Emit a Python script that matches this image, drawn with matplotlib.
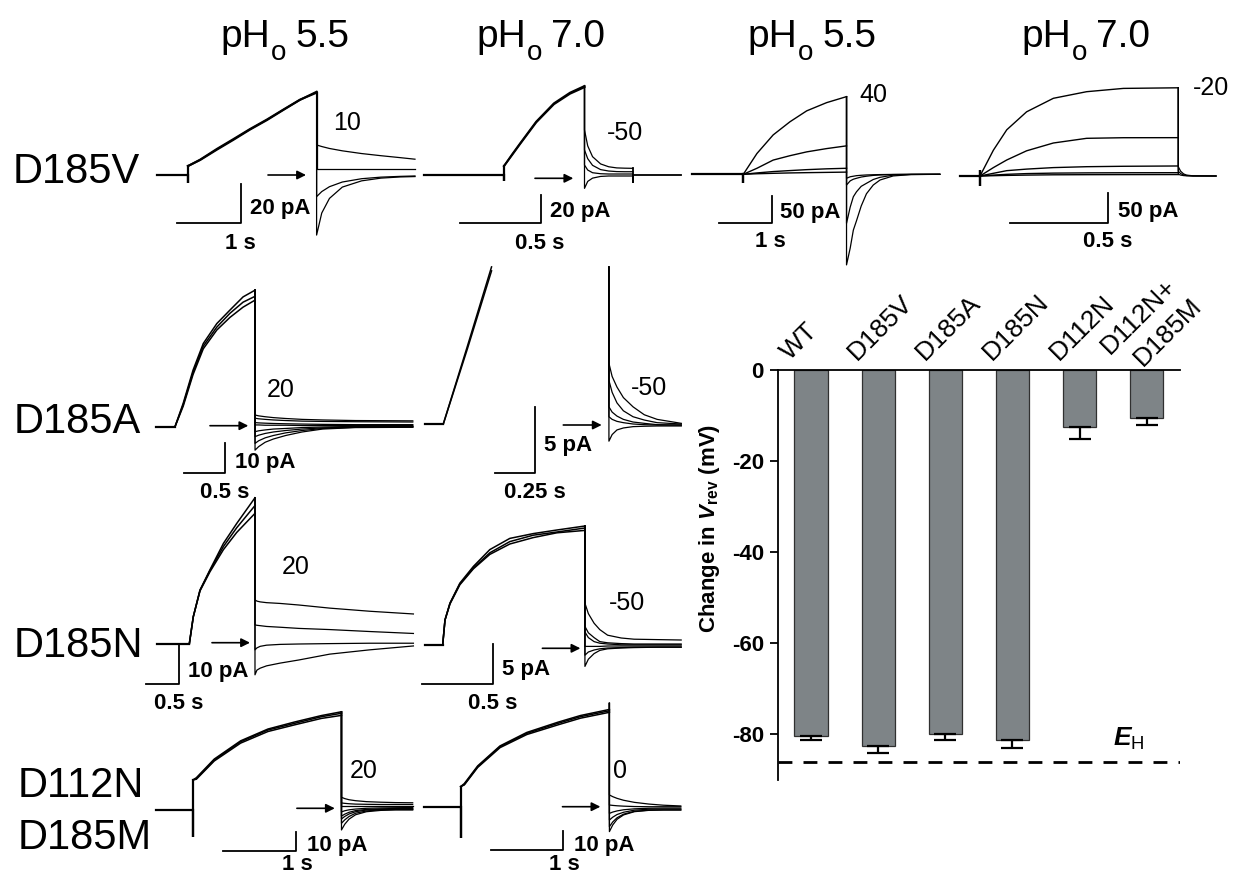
import matplotlib
matplotlib.use("Agg")
import matplotlib.pyplot as plt

plt.rcParams['font.family'] = ['Liberation Sans', 'DejaVu Sans']
plt.rcParams['mathtext.fontset'] = 'custom'
plt.rcParams['mathtext.rm'] = 'Liberation Sans'
plt.rcParams['mathtext.it'] = 'Liberation Sans:italic'
plt.rcParams['mathtext.bf'] = 'Liberation Sans:bold'
plt.rcParams['mathtext.bfit'] = 'Liberation Sans:italic:bold'

# ---------------- bar chart data ----------------
bar_labels = ['WT', 'D185V', 'D185A', 'D185N', 'D112N']
bar_last_label = ['D112N+', 'D185M']
bar_values = [-80.5, -82.6, -80.0, -81.3, -12.5, -10.4]
bar_errors = [0.8, 1.6, 1.3, 1.7, 2.7, 1.7]
e_h_value = -86.2
y_ticks = [0, -20, -40, -60, -80]

# ---------------- header / row text ----------------
col_headers = ['5.5', '7.0', '5.5', '7.0']
row_labels = ['D185V', 'D185A', 'D185N', 'D112N', 'D185M']
tail_voltages = ['10', '-50', '40', '-20', '20', '-50', '20', '-50', '20', '0']
scale_pa = [20, 20, 50, 50, 10, 5, 10, 5, 10, 10]
scale_s = [1, 0.5, 1, 0.5, 0.5, 0.25, 0.5, 0.5, 1, 1]

# ---------------- traces (time s, current pA) ----------------
# D185V, pHo 5.5
v55_pre_t = [-0.48, 0, 0, 0]
v55_pre_i = [0, 0, -3.9, 4.6]
v55_act_t = [0, 0.19, 0.45, 0.70, 0.96, 1.23, 1.49, 1.74, 2.0]
v55_act = [[4.6, 7.7, 13.0, 17.9, 23.2, 28.2, 33.5, 38.5, 42.7],
           [4.6, 7.9, 13.4, 18.3, 23.5, 28.5, 33.7, 38.6, 42.2]]
v55_tail_t = [2.0, 2.08, 2.2, 2.4, 2.7, 3.0, 3.3, 3.53]
v55_tails = [[15.4, 14.6, 13.6, 12.4, 11.0, 9.9, 8.9, 8.1],
             [2.9, 2.9, 2.9, 2.9, 2.9, 2.9, 2.9, 2.9],
             [-11.1, -8.5, -6.0, -3.6, -1.9, -1.1, -0.7, -0.5],
             [-30.8, -19.5, -12.0, -6.2, -3.0, -1.6, -1.0, -0.8]]

# D185V, pHo 7.0
v70_pre_t = [-0.50, 0, 0, 0]
v70_pre_i = [0, 0, -4.0, 6.3]
v70_act_t = [0, 0.05, 0.1, 0.2, 0.31, 0.41, 0.5]
v70_act = [[6.3, 14.5, 22.3, 37.6, 50.5, 58.0, 62.7],
           [6.3, 14.0, 21.8, 37.0, 49.8, 57.2, 61.8]]
v70_tail_t = [0.5, 0.52, 0.55, 0.6, 0.65, 0.7, 0.75, 0.8]
v70_tails = [[31.7, 20.5, 12.9, 7.8, 5.8, 5.0, 4.8, 4.7],
             [17.6, 11.5, 6.8, 3.8, 2.8, 2.4, 2.3, 2.3],
             [7.0, 3.5, 1.6, 0.9, 0.7, 0.7, 0.7, 0.7],
             [-9.4, -4.5, -2.2, -1.0, -0.7, -0.7, -0.7, -0.7]]
v70_post_t = [0.8, 0.8, 0.8, 1.10]
v70_post_i = [4.7, -4.7, 0, 0]

# D185V, pHo 5.5 (longer family)
v55b_pre_t = [-0.985, 0, 0, 0]
v55b_pre_i = [0, 0, -15.4, 0]
v55b_act_t = [0, 0.26, 0.57, 0.89, 1.21, 1.59, 1.97]
v55b_act = [[0, 38, 72, 96, 116, 131, 142],
            [0, 11, 26, 34, 41, 47, 52],
            [0, 2.5, 5, 6.8, 8.5, 10, 11],
            [0, 1, 1.8, 2.5, 3, 3.5, 4]]
v55b_tail_t = [1.97, 2.04, 2.10, 2.16, 2.25, 2.35, 2.48, 2.61, 2.86, 3.2, 3.75]
v55b_tails = [[-165.6, -135, -102, -85, -58, -35.6, -19.6, -10.4, -3, -0.5, 0],
              [-89.6, -60, -41, -32, -22, -16.5, -9.5, -5.5, -1.5, -0.3, 0],
              [-19.6, -12, -9, -7.3, -5, -3.5, -2, -1.2, -0.5, -0.1, 0],
              [-7.3, -4.5, -3.5, -2.5, -1.8, -1.2, -0.8, -0.5, -0.2, 0, 0]]

# D185V, pHo 7.0 (longer family)
v70b_pre_t = [-0.10, 0, 0, 0, 0]
v70b_pre_i = [0, 0, 10, -16.7, 0]
v70b_act_t = [0, 0.068, 0.136, 0.237, 0.373, 0.542, 0.729, 1.008]
v70b_act = [[0, 43, 77, 107, 129.5, 140.5, 146, 147],
            [0, 14, 26.7, 42, 55, 62.8, 63.8, 63.9],
            [0, 4.5, 8.9, 11.5, 14.0, 15.5, 16.2, 16.7],
            [0, 1.5, 2.8, 4, 4.8, 5.2, 5.4, 5.5],
            [0, 0.5, 1, 1.5, 2, 2.2, 2.3, 2.4]]
v70b_tail_t = [1.008, 1.02, 1.035, 1.05, 1.083, 1.2]
v70b_tails = [[15.5, 8, 3.5, 1.5, 0.3, 0],
              [8, 4, 1.8, 0.8, 0.2, 0],
              [3, 1.5, 0.7, 0.3, 0, 0]]

# D185A, pHo 5.5
a55_pre_t = [-0.23, 0]
a55_pre_i = [0, 0]
a55_act_t = [0, 0.10, 0.22, 0.345, 0.51, 0.67, 0.83, 0.976]
a55_act = [[0, 8.0, 19.3, 28.4, 35.2, 39.8, 44.3, 46.6],
           [0, 7.5, 18.5, 27.5, 34.0, 38.7, 42.5, 44.5],
           [0, 7.0, 17.8, 26.6, 33.0, 37.3, 40.8, 43.2]]
a55_tail_t = [0.976, 1.02, 1.1, 1.2, 1.35, 1.55, 1.8, 2.2, 2.9]
a55_tails = [[4.0, 3.7, 3.4, 3.1, 2.8, 2.5, 2.3, 2.1, 2.0],
             [2.9, 2.7, 2.5, 2.3, 2.1, 1.9, 1.8, 1.7, 1.6],
             [1.4, 1.3, 1.2, 1.1, 1.0, 0.9, 0.8, 0.7, 0.7],
             [0.6, 0.6, 0.5, 0.5, 0.5, 0.4, 0.4, 0.4, 0.4],
             [-1.7, -1.4, -1.1, -0.8, -0.6, -0.3, -0.1, 0.1, 0.1],
             [-3.4, -2.9, -2.3, -1.8, -1.3, -0.8, -0.4, -0.1, 0],
             [-5.7, -4.8, -3.8, -3.0, -2.1, -1.3, -0.6, -0.2, -0.1],
             [-8.0, -6.8, -5.3, -4.2, -3.0, -1.8, -0.8, -0.3, -0.2]]

# D185A, pHo 7.0
a70_pre_t = [-0.114, 0]
a70_pre_i = [0, 0]
a70_act_t = [0, 0.15, 0.30]
a70_act = [[0, 5.9, 11.9], [0, 5.7, 11.6]]
a70_top = 11.9
a70_tail_t = [1.03, 1.05, 1.08, 1.12, 1.18, 1.25, 1.33, 1.48]
a70_tails = [[4.6, 3.6, 2.8, 2.0, 1.3, 0.7, 0.35, 0.05],
             [3.3, 2.4, 1.6, 1.0, 0.55, 0.3, 0.1, 0],
             [1.3, 0.9, 0.6, 0.35, 0.15, 0.05, -0.05, -0.08],
             [0.55, 0.35, 0.2, 0.1, 0, -0.05, -0.08, -0.08],
             [-1.3, -0.8, -0.45, -0.3, -0.2, -0.17, -0.15, -0.15]]

# D185N, pHo 5.5
n55_pre_t = [-0.506, 0]
n55_pre_i = [0, 0]
n55_act_t = [0, 0.062, 0.166, 0.32, 0.53, 0.736, 1.02]
n55_act = [[0, 7.0, 13.8, 19.0, 25.8, 30.9, 37.5],
           [0, 7.0, 13.8, 18.8, 25.0, 29.8, 35.5],
           [0, 7.0, 13.6, 18.5, 24.2, 28.6, 33.5]]
n55_tail_t = [1.02, 1.05, 1.1, 1.2, 1.41, 1.7, 2.18, 2.8, 3.48]
n55_tails = [[11.3, 11.0, 10.8, 10.6, 10.4, 10.0, 9.2, 8.4, 7.7],
             [4.9, 4.8, 4.7, 4.5, 4.3, 4.0, 3.7, 3.2, 2.7],
             [-1.5, -1.0, -0.6, -0.3, -0.1, 0.0, 0.1, 0.2, 0.2],
             [-7.9, -6.7, -6.2, -5.6, -4.9, -4.1, -2.6, -1.5, -0.5]]

# D185N, pHo 7.0
n70_pre_t = [-0.124, 0]
n70_pre_i = [-0.1, -0.1]
n70_act_t = [0, 0.016, 0.051, 0.12, 0.215, 0.33, 0.47, 0.634, 0.8, 0.996]
n70_act = [[-0.1, 3.0, 5.1, 7.6, 9.7, 11.8, 13.2, 13.8, 14.25, 14.75],
           [-0.1, 3.0, 5.1, 7.5, 9.5, 11.4, 12.8, 13.6, 14.0, 14.5],
           [-0.1, 3.0, 5.0, 7.4, 9.4, 11.2, 12.5, 13.3, 13.9, 14.2]]
n70_tail_t = [0.996, 1.02, 1.06, 1.1, 1.155, 1.25, 1.34, 1.5, 1.67]
n70_tails = [[5.1, 3.8, 2.6, 1.8, 1.1, 0.75, 0.6, 0.55, 0.5],
             [2.2, 1.4, 0.8, 0.3, 0.15, 0.05, 0, 0, 0],
             [1.5, 0.8, 0.3, 0.1, 0, -0.1, -0.1, -0.1, -0.1],
             [-0.3, -0.3, -0.3, -0.3, -0.25, -0.25, -0.25, -0.25, -0.25],
             [-1.4, -1.0, -0.75, -0.6, -0.5, -0.45, -0.4, -0.4, -0.4],
             [-2.8, -1.9, -1.2, -0.8, -0.6, -0.5, -0.45, -0.4, -0.4]]

# D112N/D185M, pHo 5.5
m55_pre_t = [-0.51, 0, 0, 0]
m55_pre_i = [0, 0, -14, 15.8]
m55_act_t = [0, 0.048, 0.295, 0.66, 1.037, 1.405, 1.777, 2.055]
m55_act = [[15.8, 17.0, 26.8, 36.4, 42.6, 46.3, 49.7, 51.7],
           [15.8, 16.5, 26.3, 35.9, 42.1, 45.6, 49.1, 50.9],
           [15.8, 16.2, 25.8, 35.2, 41.3, 44.8, 48.2, 49.8]]
m55_tail_t = [2.055, 2.1, 2.16, 2.25, 2.4, 2.6, 2.8, 3.04]
m55_tails = [[6.7, 6.0, 5.4, 4.9, 4.4, 4.1, 3.9, 3.8],
             [3.7, 3.5, 3.3, 3.1, 3.0, 2.9, 2.9, 2.9],
             [2.1, 2.1, 2.1, 2.1, 2.1, 2.1, 2.1, 2.1],
             [-1.0, -0.4, 0.1, 0.5, 0.9, 1.1, 1.2, 1.3],
             [-3.2, -2.2, -1.2, -0.3, 0.3, 0.6, 0.8, 0.8],
             [-4.7, -3.4, -2.1, -0.9, 0, 0.3, 0.5, 0.5],
             [-7.0, -5.2, -3.4, -1.7, -0.5, 0.1, 0.3, 0.3],
             [-10.5, -7.5, -4.8, -2.5, -0.9, -0.2, 0.0, 0.0]]

# D112N/D185M, pHo 7.0
m70_pre_t = [-0.506, 0, 0, 0]
m70_pre_i = [0, 0, -16.3, 10.9]
m70_act_t = [0, 0.05, 0.235, 0.543, 0.913, 1.344, 1.654, 2.054]
m70_act = [[10.9, 12.5, 21.8, 32.3, 39.4, 44.8, 48.3, 51.5],
           [10.9, 12.0, 21.4, 31.9, 38.9, 44.2, 47.7, 50.8],
           [10.9, 11.8, 21.0, 31.4, 38.3, 43.4, 46.9, 50.0]]
m70_top = 54.7
m70_tail_t = [2.054, 2.1, 2.16, 2.25, 2.4, 2.6, 2.8, 3.04]
m70_tails = [[6.5, 5.6, 4.7, 3.7, 2.6, 1.7, 1.1, 0.7],
             [1.2, 1.0, 0.8, 0.6, 0.4, 0.3, 0.3, 0.3],
             [-3.2, -2.5, -1.9, -1.3, -0.8, -0.5, -0.4, -0.4],
             [-6.7, -5.2, -3.8, -2.6, -1.5, -1.0, -0.9, -0.9],
             [-10.2, -7.7, -5.5, -3.6, -2.1, -1.5, -1.4, -1.4],
             [-12.8, -9.3, -6.3, -4.0, -2.3, -1.6, -1.4, -1.4]]

# ---------------- figure ----------------
W, H = 1234, 876
fig = plt.figure(figsize=(W / 100, H / 100), dpi=100)
fig.patch.set_facecolor('white')

# pixel overlay for text and arrows
ax_px = fig.add_axes([0, 0, 1, 1])
ax_px.set_xlim(0, W)
ax_px.set_ylim(H, 0)
ax_px.set_axis_off()


def trace_axes(ox, oy, px_s, px_pa):
    ax = fig.add_axes([0, 0, 1, 1])
    ax.set_xlim(-ox / px_s, (W - ox) / px_s)
    ax.set_ylim(-(H - oy) / px_pa, oy / px_pa)
    ax.set_axis_off()
    ax.patch.set_alpha(0)
    return ax


def draw_panel(layout, pre_t, pre_i, act_t, acts, tail_t, tails,
               corner, sb_pa, sb_s, top=None, post=None, lw_act=1.1):
    ox, oy, px_s, px_pa = layout
    ax = trace_axes(ox, oy, px_s, px_pa)
    ax.plot(pre_t, pre_i, color='black', lw=1.6, solid_joinstyle='miter')
    for a in acts:
        ax.plot(act_t, a, color='black', lw=lw_act)
    peak = top if top is not None else max(a[-1] for a in acts)
    for tl in tails:
        ax.plot([tail_t[0]] + list(tail_t), [peak] + list(tl), color='black', lw=0.9)
    if post is not None:
        ax.plot(post[0], post[1], color='black', lw=1.3)
    # scale bar
    tc = (corner[0] - ox) / px_s
    ic = (oy - corner[1]) / px_pa
    ax.plot([tc - sb_s, tc, tc], [ic, ic, ic + sb_pa], color='black', lw=1.3)
    return ax


layouts = [(188, 175, 64.3, 1.95), (504, 175, 161, 1.42),
           (743.3, 174.3, 52.4, 0.547), (980, 176, 196.7, 0.6),
           (175, 426.7, 82, 2.93), (443.3, 424, 160.8, 13.2),
           (189.3, 644, 64.4, 3.9), (442.7, 644, 142.8, 8.0),
           (192.9, 810, 72.3, 1.9), (460.7, 807.3, 72.4, 1.9)]
corners = [(241, 223.3), (540.7, 223.3), (771.7, 223.3), (1108.3, 222.7),
           (225.4, 472.7), (534.8, 472.7), (178.6, 684), (493.3, 684),
           (295.5, 850.7), (563.4, 850)]

draw_panel(layouts[0], v55_pre_t, v55_pre_i, v55_act_t, v55_act, v55_tail_t, v55_tails,
           corners[0], scale_pa[0], scale_s[0], lw_act=1.5)
draw_panel(layouts[1], v70_pre_t, v70_pre_i, v70_act_t, v70_act, v70_tail_t, v70_tails,
           corners[1], scale_pa[1], scale_s[1], post=(v70_post_t, v70_post_i), lw_act=1.4)
draw_panel(layouts[2], v55b_pre_t, v55b_pre_i, v55b_act_t, v55b_act, v55b_tail_t, v55b_tails,
           corners[2], scale_pa[2], scale_s[2], lw_act=1.0)
draw_panel(layouts[3], v70b_pre_t, v70b_pre_i, v70b_act_t, v70b_act, v70b_tail_t, v70b_tails,
           corners[3], scale_pa[3], scale_s[3], lw_act=1.0)
draw_panel(layouts[4], a55_pre_t, a55_pre_i, a55_act_t, a55_act, a55_tail_t, a55_tails,
           corners[4], scale_pa[4], scale_s[4])
draw_panel(layouts[5], a70_pre_t, a70_pre_i, a70_act_t, a70_act, a70_tail_t, a70_tails,
           corners[5], scale_pa[5], scale_s[5], top=a70_top)
draw_panel(layouts[6], n55_pre_t, n55_pre_i, n55_act_t, n55_act, n55_tail_t, n55_tails,
           corners[6], scale_pa[6], scale_s[6])
draw_panel(layouts[7], n70_pre_t, n70_pre_i, n70_act_t, n70_act, n70_tail_t, n70_tails,
           corners[7], scale_pa[7], scale_s[7])
draw_panel(layouts[8], m55_pre_t, m55_pre_i, m55_act_t, m55_act, m55_tail_t, m55_tails,
           corners[8], scale_pa[8], scale_s[8])
draw_panel(layouts[9], m70_pre_t, m70_pre_i, m70_act_t, m70_act, m70_tail_t, m70_tails,
           corners[9], scale_pa[9], scale_s[9], top=m70_top)

# scale bar labels
pa_label_pos = [(250, 208.3), (550, 211.7), (780, 212.7), (1118, 211.7), (235, 462.7),
                (543.8, 445), (187.5, 672), (502, 669.3), (307, 846), (573.7, 846)]
s_label_pos = [(240, 243.3), (540, 243.3), (770, 241.7), (1108, 241.7), (224.5, 492.7),
               (534.6, 492.7), (178.6, 703.3), (493, 703.3), (297, 865), (564.7, 865)]
for k in range(10):
    ax_px.text(*pa_label_pos[k], '{:g} pA'.format(scale_pa[k]), ha='left', va='center',
               fontsize=16, fontweight='bold')
    ax_px.text(*s_label_pos[k], '{:g} s'.format(scale_s[k]), ha='center', va='center',
               fontsize=16, fontweight='bold')

# voltage labels
volt_pos = [(346.7, 123.3), (625, 133), (873, 95), (1211.5, 88.3), (281, 390),
            (649, 388.3), (296, 566.7), (627.5, 602.7), (363.8, 770.7), (620.5, 770.7)]
for k in range(10):
    ax_px.text(*volt_pos[k], tail_voltages[k], ha='center', va='center', fontsize=18)

# arrows
arrow_pos = [(268, 306, 175), (535, 573.3, 178.3), (210, 248.3, 425.7), (563.3, 601.7, 425),
             (212, 250, 642.7), (542.4, 580.4, 648.3), (296.9, 334.8, 808.3), (562.5, 600.4, 806.7)]
for x0, x1, y in arrow_pos:
    ax_px.annotate('', xy=(x1, y), xytext=(x0, y),
                   arrowprops=dict(arrowstyle='-|>', color='black', lw=1.2,
                                   mutation_scale=13, shrinkA=0, shrinkB=0))

# headers: "pH" + low subscript "o" + value
fig.canvas.draw()
renderer = fig.canvas.get_renderer()
inv = ax_px.transData.inverted()
header_left = [220, 476, 747, 1021]
for k in range(4):
    t1 = ax_px.text(header_left[k], 47, 'pH', ha='left', va='baseline', fontsize=28)
    bb = t1.get_window_extent(renderer)
    x_end = inv.transform((bb.x1, bb.y0))[0]
    t2 = ax_px.text(x_end + 1, 60, 'o', ha='left', va='baseline', fontsize=20)
    bb2 = t2.get_window_extent(renderer)
    x_end2 = inv.transform((bb2.x1, bb2.y0))[0]
    ax_px.text(x_end2 + 9, 47, col_headers[k], ha='left', va='baseline', fontsize=28)

# row labels
row_pos = [(13, 183), (13.4, 433.3), (13.4, 656.7), (17.9, 796.7), (17.9, 849.3)]
for k in range(5):
    ax_px.text(*row_pos[k], row_labels[k], ha='left', va='baseline', fontsize=30)

# ---------------- bar chart ----------------
bl, br, bt, bb_ = 777.7, 1180.2, 370.3, 780.0
axb = fig.add_axes([bl / W, 1 - bb_ / H, (br - bl) / W, (bb_ - bt) / H])
axb.patch.set_alpha(0)
xs = list(range(len(bar_values)))
axb.bar(xs, bar_values, width=0.5, color='#7e8487', edgecolor='#303030', linewidth=0.9)
axb.errorbar(xs, bar_values, yerr=[bar_errors, [0] * len(bar_errors)], fmt='none',
             ecolor='black', elinewidth=1.6, capsize=8, capthick=1.6)
axb.axhline(e_h_value, color='black', lw=2, dashes=(5, 4))
axb.set_xlim(-0.5, 5.5)
axb.set_ylim(-90.1, 0)
axb.set_yticks(y_ticks)
axb.set_yticklabels([str(v) for v in y_ticks], fontsize=16, fontweight='bold')
axb.set_xticks([])
for s in ['right', 'bottom']:
    axb.spines[s].set_visible(False)
axb.spines['left'].set_linewidth(1.3)
axb.spines['top'].set_linewidth(1.3)
axb.tick_params(axis='y', direction='out', length=6, width=1.3, pad=4)

for i, lab in enumerate(bar_labels):
    axb.annotate(lab, xy=(i, 0), xytext=(-21, 9), textcoords='offset pixels',
                 rotation=45, rotation_mode='anchor', ha='left', va='baseline', fontsize=19)
axb.annotate(bar_last_label[0], xy=(5, 0), xytext=(-37, 15), textcoords='offset pixels',
             rotation=45, rotation_mode='anchor', ha='left', va='baseline', fontsize=19)
axb.annotate(bar_last_label[1], xy=(5, 0), xytext=(-4, 3), textcoords='offset pixels',
             rotation=45, rotation_mode='anchor', ha='left', va='baseline', fontsize=19)

ax_px.text(710, 528, r'Change in $\mathbfit{V}_{\mathbf{rev}}$ (mV)', rotation=90,
           ha='center', va='center', fontsize=16, fontweight='bold')
ax_px.text(1113, 739, r'$\mathbfit{E}_{\mathrm{H}}$', ha='left', va='center', fontsize=19)

fig.savefig('out.png', dpi=100, facecolor='white')
